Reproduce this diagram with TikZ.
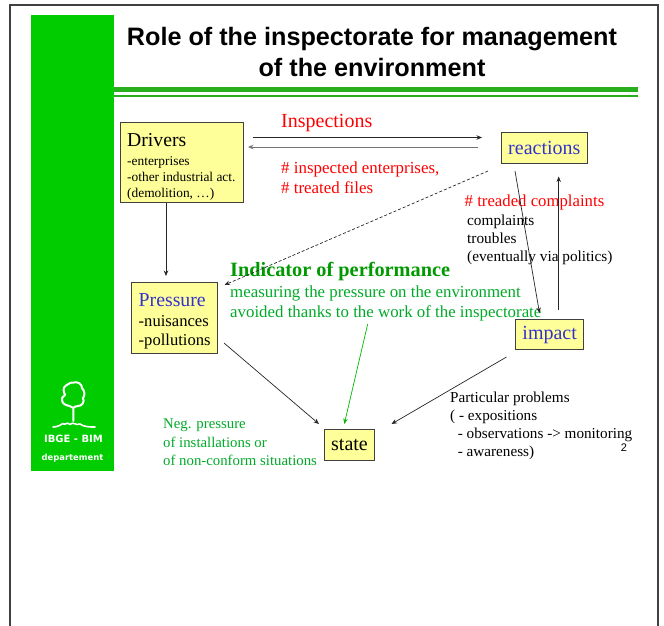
\documentclass[tikz,border=0pt]{standalone}
\usepackage{fontspec}
\setmainfont{Liberation Serif}
\newfontfamily\arialf{Liberation Sans}
\newfontfamily\comicf{DejaVu Sans}
\usetikzlibrary{arrows.meta}
\definecolor{sidegreen}{RGB}{0,204,0}
\definecolor{rulegreen}{RGB}{40,175,30}
\definecolor{boxyellow}{RGB}{255,255,153}
\definecolor{boxblue}{RGB}{51,51,204}
\definecolor{txtgreen}{RGB}{0,170,40}
\definecolor{indgreen}{RGB}{0,153,0}
\definecolor{txtred}{RGB}{255,0,0}
\newcommand{\fsz}[2]{\fontsize{#1}{#2}\selectfont}
\tikzset{
 x=1pt,y=-1pt,
 ybox/.style={draw=black!75,line width=1pt,fill=boxyellow,inner sep=0pt,align=left},
 txt/.style={inner sep=0pt,align=left,anchor=west},
 arr/.style={-{Stealth[length=5.5pt,width=4.5pt]},line width=0.7pt,draw=black!85},
}
\begin{document}
\begin{tikzpicture}
\useasboundingbox (0,0) rectangle (664,625);
\draw[line width=2pt,black!75] (10,640) -- (10,4.5) -- (658,4.5) -- (658,640);
\fill[sidegreen] (31,15) rectangle (114,471);
\fill[rulegreen] (114,87.3) rectangle (637.7,92);
\fill[rulegreen] (114,95.3) rectangle (637.7,96.7);
\node[inner sep=0pt,align=center,anchor=center,font=\arialf\bfseries\fsz{25.2}{31}] (title) at (372,52) {Role of the inspectorate for management\\of the environment};
% boxes
\node[ybox,minimum width=122.5pt,minimum height=79.5pt] (drivers) at (182,162.7) {};
\node[txt,font=\fsz{19.7}{20}] (driverst) at (127,140.5) {Drivers};
\node[txt,anchor=north west,font=\fsz{13.4}{16}] (driversl) at (127,156) {-enterprises\\-other industrial act.\\(demolition, \dots)};
\node[ybox,minimum width=85.5pt,minimum height=31pt,font=\fsz{20}{20},text=boxblue] (reactions) at (544.3,148.3) {\raisebox{-2.5pt}{reactions}};
\node[ybox,minimum width=85.5pt,minimum height=71.5pt] (pressure) at (174.7,318) {};
\node[txt,font=\fsz{19.8}{20},text=boxblue] (pressuret) at (138.5,300) {Pressure};
\node[txt,font=\fsz{16.6}{17}] (pressurel) at (138.5,321) {-nuisances};
\node[txt,font=\fsz{16.6}{17}] (pressurem) at (138.5,341.5) {-pollutions};
\node[ybox,minimum width=67.5pt,minimum height=30.5pt,font=\fsz{20}{20},text=boxblue] (impact) at (549.7,334.7) {\raisebox{-3pt}{impact}};
\node[ybox,minimum width=50pt,minimum height=31pt,font=\fsz{20}{20}] (state) at (349.5,444.7) {\raisebox{-1.5pt}{state}};
% red text
\node[txt,text=txtred,font=\fsz{20}{20}] (insp) at (281,123) {Inspections};
\node[txt,text=txtred,anchor=north west,font=\fsz{16.9}{19.7}] (insp2) at (281,162) {\# inspected enterprises,\\\# treated files};
\node[txt,text=txtred,font=\fsz{16.75}{17}] (treaded) at (464.5,202) {\# treaded complaints};
\node[txt,anchor=north west,font=\fsz{15.3}{18.2}] (compl) at (467,214.5) {complaints\\troubles\\(eventually via politics)};
% green
\node[txt,text=indgreen,font=\bfseries\fsz{20.3}{20}] (ind) at (230,271.5) {Indicator of performance};
\node[txt,text=txtgreen,anchor=north west,font=\fsz{16.85}{19.7}] (meas) at (230,286) {measuring the pressure on the environment\\avoided thanks to the work of the inspectorate};
\node[txt,text=txtgreen,anchor=north west,font=\fsz{14.8}{18.6}] (neg) at (163,418.5) {Neg. pressure\\of installations or\\of non-conform situations};
\node[txt,anchor=north west,font=\fsz{15.2}{18}] (part) at (450,392) {Particular problems\\( - expositions\\\ \ - observations -> monitoring\\\ \ - awareness)};
\node[inner sep=0pt,font=\arialf\fsz{11}{11}] (pagenum) at (624,448) {2};
% tree
\begin{scope}[line width=2pt,white,line cap=round,line join=round]
\draw (73.3,408) .. controls (70,405) and (64,406) .. (62.5,402) .. controls (61,398) and (63,396) .. (65,395) .. controls (63,391) and (63,387) .. (66,385.5) .. controls (69,384) and (70,382) .. (74,382.5) .. controls (78,381.5) and (82,384) .. (82,388) .. controls (85,391) and (85,396) .. (83,398) .. controls (85,402) and (82,406) .. (78,406) .. controls (76,406) and (74,407) .. (73.3,408) -- (73.3,421);
\draw[line width=1.6pt] (53,427) .. controls (58,427) and (60,425) .. (63,423.5) .. controls (65,426) and (67,421) .. (70,424.5) .. controls (73,421) and (76,426) .. (80,424) .. controls (84,427) and (90,427) .. (95,427);
\end{scope}
\node[inner sep=0pt,text=white,font=\comicf\bfseries\fsz{10}{10}] (ibge) at (73.5,438.5) {IBGE - BIM};
\node[inner sep=0pt,text=white,font=\comicf\bfseries\fsz{8.4}{10}] (depart) at (72.5,458.5) {departement};
% connector anchors
\coordinate (a1s) at (252.5,137.5); \coordinate (a1e) at (482,137.5);
\coordinate (a2s) at (478,147); \coordinate (a2e) at (248,147);
\coordinate (d1s) at (166,203); \coordinate (d1e) at (166,276);
\coordinate (d2s) at (488,171); \coordinate (d2e) at (224.5,285);
\coordinate (c1s) at (515,171); \coordinate (c1e) at (539.5,313);
\coordinate (c2s) at (558.7,310); \coordinate (c2e) at (558.7,176.5);
\coordinate (c3s) at (224,343); \coordinate (c3e) at (319,424);
\coordinate (c4s) at (367.7,324); \coordinate (c4e) at (344.3,424);
\coordinate (c5s) at (506.5,357); \coordinate (c5e) at (391.5,424);
\draw[arr] (a1s) -- (a1e);
\draw[arr,draw=black!55] (a2s) -- (a2e);
\draw[arr] (d1s) -- (d1e);
\draw[arr,dash pattern=on 3pt off 2pt] (d2s) -- (d2e);
\draw[arr] (c1s) -- (c1e);
\draw[arr] (c2s) -- (c2e);
\draw[arr] (c3s) -- (c3e);
\draw[arr,draw=indgreen!70!green] (c4s) -- (c4e);
\draw[arr] (c5s) -- (c5e);
\end{tikzpicture}
\end{document}
